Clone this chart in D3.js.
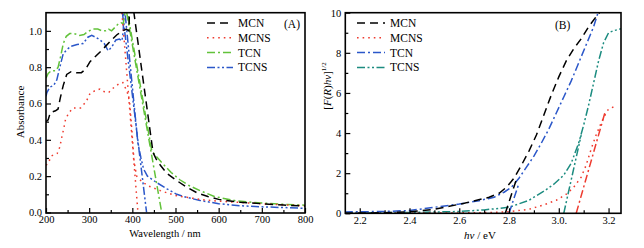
<!DOCTYPE html>
<html>
<head>
<meta charset="utf-8">
<script src="https://cdn.jsdelivr.net/npm/d3@7/dist/d3.min.js"></script>
<style>
  body { margin: 0; background: #fff; }
  text { font-family: "Liberation Serif", "DejaVu Serif", serif; }
</style>
</head>
<body>
<div id="chart"></div>
<script>
// ---- panel A: absorbance vs wavelength ----
var wlTicks    = [200, 300, 400, 500, 600, 700, 800];
var wlMinor    = [250, 350, 450, 550, 650, 750];
var absTicks   = [0, 0.2, 0.4, 0.6, 0.8, 1.0];
var absLabels  = ["0.0", "0.2", "0.4", "0.6", "0.8", "1.0"];
var absMinor   = [0.1, 0.3, 0.5, 0.7, 0.9];

var mcnA  = [[200,0.50],[205,0.51],[210,0.55],[222,0.56],[228,0.57],[233,0.63],[240,0.70],[248,0.76],
             [258,0.775],[270,0.77],[282,0.77],[292,0.79],[302,0.83],[315,0.86],[328,0.89],[340,0.92],
             [352,0.95],[365,0.98],[378,1.0],[386,1.01],[392,1.0],[395,1.25],[448,0.33],[455,0.295],
             [465,0.26],[480,0.215],[500,0.18],[525,0.14],[550,0.108],[575,0.088],[600,0.072],
             [650,0.056],[700,0.048],[750,0.041],[800,0.035]];
var mcnsA = [[200,0.26],[205,0.27],[212,0.31],[220,0.32],[226,0.325],[232,0.36],[237,0.42],[241,0.46],
             [245,0.51],[252,0.545],[262,0.575],[280,0.575],[293,0.61],[302,0.655],[313,0.67],[325,0.68],
             [335,0.665],[345,0.66],[358,0.69],[370,0.71],[378,0.715],[385,0.68],[390,0.65],[394,0.6],
             [399,0.45],[404,0.28],[410,0.2],[420,0.175],[435,0.148],[465,0.12],[500,0.093],[535,0.08],
             [570,0.068],[600,0.062],[650,0.055],[700,0.048],[750,0.042],[800,0.037]];
var tcnA  = [[200,0.74],[205,0.765],[212,0.78],[222,0.78],[228,0.80],[234,0.86],[240,0.93],[247,0.97],
             [255,0.985],[265,0.985],[278,0.975],[288,0.98],[296,0.995],[308,1.01],[320,1.01],[330,1.0],
             [338,1.0],[345,1.01],[352,1.0],[360,1.02],[368,1.04],[374,1.045],[379,1.04],[383,1.1],
             [386,1.14],[445,0.34],[455,0.31],[468,0.275],[490,0.22],[510,0.18],[530,0.15],[557,0.12],
             [590,0.088],[640,0.064],[700,0.052],[750,0.045],[800,0.04]];
var tcnsA = [[200,0.64],[202,0.66],[209,0.69],[218,0.70],[225,0.73],[232,0.80],[240,0.875],[250,0.90],
             [258,0.915],[272,0.925],[286,0.93],[297,0.965],[306,0.975],[315,0.965],[325,0.95],[335,0.93],
             [344,0.89],[352,0.91],[362,0.95],[370,0.955],[376,0.945],[379,1.0],[381,1.15],[413,0.38],
             [420,0.3],[426,0.24],[435,0.2],[456,0.165],[480,0.13],[503,0.1],[526,0.083],[557,0.066],
             [600,0.048],[650,0.037],[700,0.031],[750,0.027],[800,0.023]];
// straight extrapolation lines to the wavelength axis
var mcnsTanA = [[376,1.1],[413,0]];
var tcnTanA  = [[387,1.1],[468,0]];
var tcnsTanA = [[377,1.1],[433,0]];

// ---- panel B: Tauc plot ----
var evTicks   = [2.2, 2.4, 2.6, 2.8, 3.0, 3.2];
var evLabels  = ["2.2", "2.4", "2.6", "2.8", "3.0.", "3.2"];
var evMinor   = [2.3, 2.5, 2.7, 2.9, 3.1];
var taucTicks = [0, 2, 4, 6, 8, 10];
var taucMinor = [1, 3, 5, 7, 9];

var mcnB  = [[2.14,0],[2.3,0.03],[2.4,0.08],[2.5,0.2],[2.56,0.35],[2.62,0.5],[2.67,0.65],[2.72,0.8],
             [2.76,1.0],[2.79,1.3],[2.82,1.75],[2.85,2.4],[2.88,3.1],[2.91,3.9],[2.94,4.9],[2.97,5.9],
             [3.0,6.8],[3.03,7.6],[3.06,8.2],[3.09,8.7],[3.12,9.3],[3.15,9.8],[3.17,10.1]];
var mcnsB = [[2.14,0],[2.5,0.01],[2.7,0.03],[2.8,0.08],[2.88,0.2],[2.94,0.42],[2.99,0.65],[3.03,0.95],
             [3.06,1.3],[3.09,1.8],[3.11,2.4],[3.13,3.2],[3.15,3.9],[3.17,4.5],[3.19,5.0],[3.2,5.2],
             [3.22,5.3]];
var tcnB  = [[2.14,0.07],[2.3,0.09],[2.4,0.14],[2.5,0.3],[2.6,0.46],[2.68,0.63],[2.74,0.8],[2.78,1.05],
             [2.81,1.3],[2.84,1.75],[2.87,2.3],[2.9,2.85],[2.93,3.5],[2.96,4.2],[2.99,5.0],[3.02,5.8],
             [3.05,6.6],[3.08,7.5],[3.11,8.4],[3.14,9.3],[3.16,10.1]];
var tcnsB = [[2.14,0.02],[2.4,0.04],[2.6,0.09],[2.7,0.17],[2.8,0.3],[2.88,0.65],[2.94,1.1],[2.98,1.45],
             [3.02,1.9],[3.05,2.5],[3.08,3.5],[3.1,4.4],[3.12,5.4],[3.14,6.5],[3.16,7.6],[3.18,8.5],
             [3.2,9.0],[3.22,9.1],[3.25,9.2]];
var mcnTanB  = [[2.785,0],[2.83,1.7]];
var mcnsTanB = [[3.07,0],[3.185,5.0]];
var tcnTanB  = [[2.80,0],[2.84,1.5]];
var tcnsTanB = [[3.02,0],[3.09,3.9]];

var names = ["MCN", "MCNS", "TCN", "TCNS"];

// line styles
var DASH    = "8,5";
var DOT     = "1.6,4";
var DASHDOT = "8,3,2,3";
var DASHDD  = "8,2.5,2,2.5,2,2.5";

var svg = d3.select("#chart").append("svg")
    .attr("width", 644)
    .attr("height", 248);

svg.append("rect")
    .attr("width", 644)
    .attr("height", 248)
    .attr("fill", "white");

function panel(opt) {
  var g = svg.append("g");
  var x = d3.scaleLinear().domain(opt.xDomain).range(opt.xRange);
  var y = d3.scaleLinear().domain(opt.yDomain).range(opt.yRange);

  var clipId = "clip" + opt.id;
  g.append("clipPath").attr("id", clipId)
    .append("rect")
      .attr("x", opt.xRange[0]).attr("y", opt.yRange[1])
      .attr("width", opt.xRange[1] - opt.xRange[0])
      .attr("height", opt.yRange[0] - opt.yRange[1]);

  var line = d3.line()
      .x(function(d) { return x(d[0]); })
      .y(function(d) { return y(d[1]); });

  var plot = g.append("g").attr("clip-path", "url(#" + clipId + ")");
  opt.series.forEach(function(s) {
    plot.append("path")
        .attr("d", line(s.data))
        .attr("fill", "none")
        .attr("stroke", s.color)
        .attr("stroke-width", 1.5)
        .attr("stroke-dasharray", s.dash);
  });

  // axes: ticks pointing inward
  var xAxis = d3.axisBottom(x).tickValues(opt.xTicks).tickSize(-5).tickPadding(3)
      .tickFormat(function(d, i) { return opt.xLabels[i]; });
  var xMin  = d3.axisBottom(x).tickValues(opt.xMinor).tickSize(-3).tickFormat("");
  var yAxis = d3.axisLeft(y).tickValues(opt.yTicks).tickSize(-5).tickPadding(4)
      .tickFormat(function(d, i) { return opt.yLabels[i]; });
  var yMin  = d3.axisLeft(y).tickValues(opt.yMinor).tickSize(-3).tickFormat("");

  [[xAxis, "translate(0," + opt.yRange[0] + ")"], [xMin, "translate(0," + opt.yRange[0] + ")"],
   [yAxis, "translate(" + opt.xRange[0] + ",0)"], [yMin, "translate(" + opt.xRange[0] + ",0)"]]
  .forEach(function(a) {
    var ax = g.append("g").attr("transform", a[1]).call(a[0]);
    ax.select(".domain").remove();
    ax.selectAll("line").attr("stroke", "#000").attr("stroke-width", 1.2);
    ax.selectAll("text").attr("font-family", "Liberation Serif, serif")
      .attr("font-size", 10.5).attr("fill", "#000");
  });

  // frame
  g.append("rect")
      .attr("x", opt.xRange[0]).attr("y", opt.yRange[1])
      .attr("width", opt.xRange[1] - opt.xRange[0])
      .attr("height", opt.yRange[0] - opt.yRange[1])
      .attr("fill", "none")
      .attr("stroke", "#000")
      .attr("stroke-width", 1.6);

  // legend
  var leg = g.append("g");
  opt.legend.forEach(function(s, i) {
    var ly = opt.legY + i * 14.8;
    leg.append("line")
        .attr("x1", opt.legX).attr("x2", opt.legX + opt.legLen)
        .attr("y1", ly).attr("y2", ly)
        .attr("stroke", s.color)
        .attr("stroke-width", 1.5)
        .attr("stroke-dasharray", s.dash);
    leg.append("text")
        .attr("x", opt.legX + opt.legLen + 5)
        .attr("y", ly + 4)
        .attr("font-size", 11.5)
        .text(names[i]);
  });

  g.append("text")
      .attr("x", opt.tagX).attr("y", opt.tagY)
      .attr("font-size", 11.5)
      .text(opt.tag);

  return g;
}

var black = "#000000", red = "#ee3b2f", green = "#62c23a", blue = "#2b57c9", teal = "#1c8c80";

var gA = panel({
  id: "A",
  xDomain: [200, 800], xRange: [46, 305],
  yDomain: [-0.003, 1.1], yRange: [213, 12.7],
  xTicks: wlTicks, xLabels: wlTicks.map(String), xMinor: wlMinor,
  yTicks: absTicks, yLabels: absLabels, yMinor: absMinor,
  series: [
    { data: tcnsA,    color: blue,  dash: DASHDD },
    { data: tcnsTanA, color: blue,  dash: DASHDD },
    { data: tcnA,     color: green, dash: DASHDOT },
    { data: tcnTanA,  color: green, dash: DASHDOT },
    { data: mcnsA,    color: red,   dash: DOT },
    { data: mcnsTanA, color: red,   dash: DOT },
    { data: mcnA,     color: black, dash: DASH }
  ],
  legend: [
    { color: black, dash: DASH }, { color: red, dash: DOT },
    { color: green, dash: DASHDOT }, { color: blue, dash: DASHDD }
  ],
  legX: 207, legY: 23, legLen: 26,
  tag: "(A)", tagX: 284, tagY: 28
});

gA.append("text")
    .attr("x", 165).attr("y", 237)
    .attr("text-anchor", "middle")
    .attr("font-size", 10.5)
    .text("Wavelength / nm");

gA.append("text")
    .attr("transform", "translate(24,112) rotate(-90)")
    .attr("text-anchor", "middle")
    .attr("font-size", 11)
    .text("Absorbance");

var gB = panel({
  id: "B",
  xDomain: [2.142, 3.25], xRange: [345.3, 621],
  yDomain: [0, 10], yRange: [213.3, 12.7],
  xTicks: evTicks, xLabels: evLabels, xMinor: evMinor,
  yTicks: taucTicks, yLabels: taucTicks.map(String), yMinor: taucMinor,
  series: [
    { data: tcnsB,    color: teal,  dash: DASHDD },
    { data: tcnsTanB, color: teal,  dash: DASHDD },
    { data: mcnsB,    color: red,   dash: DOT },
    { data: mcnsTanB, color: red,   dash: DASHDOT },
    { data: tcnB,     color: blue,  dash: DASHDOT },
    { data: tcnTanB,  color: blue,  dash: DASHDOT },
    { data: mcnB,     color: black, dash: DASH },
    { data: mcnTanB,  color: black, dash: DASH }
  ],
  legend: [
    { color: black, dash: DASH }, { color: red, dash: DOT },
    { color: blue, dash: DASHDOT }, { color: teal, dash: DASHDD }
  ],
  legX: 357, legY: 23, legLen: 28,
  tag: "(B)", tagX: 555, tagY: 29
});

var xl = gB.append("text")
    .attr("x", 480).attr("y", 239)
    .attr("text-anchor", "middle")
    .attr("font-size", 11);
xl.append("tspan").attr("font-style", "italic").text("hv");
xl.append("tspan").text(" / eV");

var yl = gB.append("text")
    .attr("transform", "translate(331,86) rotate(-90)")
    .attr("text-anchor", "middle")
    .attr("font-size", 11);
yl.append("tspan").text("[");
yl.append("tspan").attr("font-style", "italic").text("F");
yl.append("tspan").text("(");
yl.append("tspan").attr("font-style", "italic").text("R");
yl.append("tspan").text(")");
yl.append("tspan").attr("font-style", "italic").text("hv");
yl.append("tspan").text("]");
yl.append("tspan").attr("font-size", 7).attr("dy", -5).text("1/2");
</script>
</body>
</html>
